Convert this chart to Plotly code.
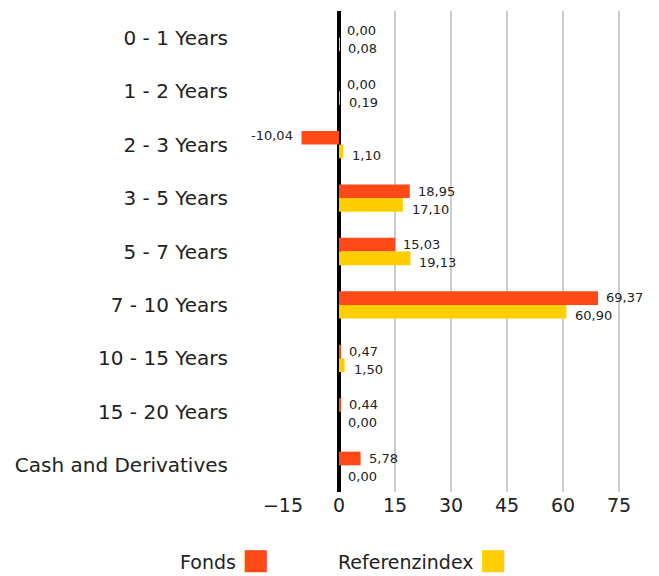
import plotly.graph_objects as go

categories = ["0 - 1 Years", "1 - 2 Years", "2 - 3 Years", "3 - 5 Years", "5 - 7 Years",
              "7 - 10 Years", "10 - 15 Years", "15 - 20 Years", "Cash and Derivatives"]
fonds = [0.00, 0.00, -10.04, 18.95, 15.03, 69.37, 0.47, 0.44, 5.78]
referenz = [0.08, 0.19, 1.10, 17.10, 19.13, 60.90, 1.50, 0.00, 0.00]
tick_vals = [-15, 0, 15, 30, 45, 60, 75]

c_fonds = "#FF4A17"
c_ref = "#FFCE00"
font = "DejaVu Sans"

def fmt(v):
    return f"{v:.2f}".replace(".", ",")

fig = go.Figure()
fig.add_trace(go.Bar(y=categories, x=fonds, orientation="h", name="Fonds",
                     marker=dict(color=c_fonds, line=dict(width=0)), showlegend=False))
fig.add_trace(go.Bar(y=categories, x=referenz, orientation="h", name="Referenzindex",
                     marker=dict(color=c_ref, line=dict(width=0)), showlegend=False))

annotations = []
for cat, v in zip(categories, fonds):
    annotations.append(dict(x=v, y=cat, text=fmt(v),
                            showarrow=False, xanchor="left" if v >= 0 else "right",
                            xshift=6 if v >= 0 else -7, yshift=7 if v >= 0 else 9,
                            font=dict(family=font, size=13, color="#222")))
for cat, v in zip(categories, referenz):
    annotations.append(dict(x=v, y=cat, text=fmt(v),
                            showarrow=False, xanchor="left", xshift=7, yshift=-11,
                            font=dict(family=font, size=13, color="#222")))

# legend as text with coloured squares (square sits right of the label)
annotations.append(dict(xref="paper", yref="paper", x=-0.300, y=-0.140, xanchor="left",
                        yanchor="middle", showarrow=False,
                        text=f"Fonds <span style='color:{c_fonds};font-size:29px'>■</span>",
                        font=dict(family=font, size=19, color="#222")))
annotations.append(dict(xref="paper", yref="paper", x=0.151, y=-0.140, xanchor="left",
                        yanchor="middle", showarrow=False,
                        text=f"Referenzindex <span style='color:{c_ref};font-size:29px'>■</span>",
                        font=dict(family=font, size=19, color="#222")))

fig.update_layout(
    width=651, height=568,
    margin=dict(l=275, r=25, t=3, b=84),
    paper_bgcolor="white", plot_bgcolor="white",
    barmode="group", bargap=0.49, bargroupgap=0,
    font=dict(family=font, color="#222"),
    annotations=annotations,
    xaxis=dict(range=[-15, 79], tickvals=tick_vals, showgrid=True, gridcolor="#CCCCCC",
               gridwidth=2, zeroline=True, zerolinecolor="black", zerolinewidth=4,
               tickfont=dict(size=19, family=font, color="#222"), ticks="", showline=False,
               fixedrange=True),
    yaxis=dict(autorange="reversed", ticks="", showgrid=False, ticklabelstandoff=54,
               tickfont=dict(size=20, family=font, color="#222"), showline=False),
)

fig.write_html("out.html")
